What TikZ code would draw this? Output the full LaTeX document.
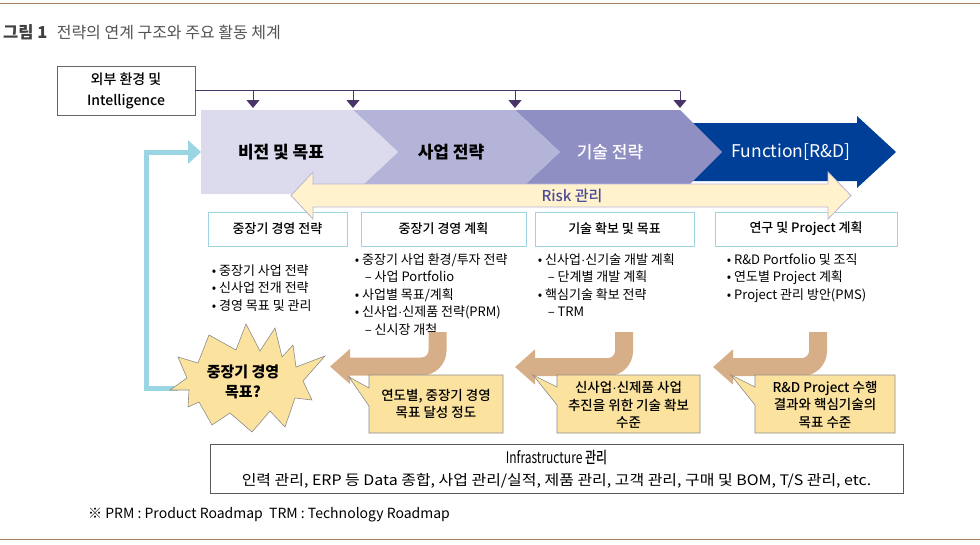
\documentclass[tikz,border=0pt]{standalone}
\usepackage{fontspec}
\setmainfont{Noto Sans CJK KR}
\newfontfamily\medfont{Noto Sans CJK KR Medium}
\newfontfamily\dotfont{Liberation Sans}
\newcommand\mdot{{\dotfont ·}}
\usepackage{tikz}
\usetikzlibrary{arrows.meta, positioning}

\definecolor{rulebrown}{RGB}{160,124,92}
\definecolor{busline}{RGB}{72,52,104}
\definecolor{chevA}{RGB}{220,219,237}
\definecolor{chevB}{RGB}{180,179,216}
\definecolor{chevC}{RGB}{144,143,196}
\definecolor{chevD}{RGB}{0,63,152}
\definecolor{riskfill}{RGB}{255,242,204}
\definecolor{riskline}{RGB}{185,180,214}
\definecolor{risktext}{RGB}{75,75,155}
\definecolor{planline}{RGB}{158,211,223}
\definecolor{fbline}{RGB}{153,213,227}
\definecolor{uturncol}{RGB}{214,174,135}
\definecolor{memofill}{RGB}{251,226,158}
\definecolor{memoline}{RGB}{140,140,140}
\definecolor{titlegray}{RGB}{64,64,64}

\tikzset{
  phase/.style={font=\bfseries\fontsize{17}{19}\selectfont},
  plan/.style={draw=planline, line width=0.8pt, fill=white, minimum height=34pt,
    font=\medfont\fontsize{13}{15}\selectfont},
  bullets/.style={align=left, font=\fontsize{13}{17.5}\selectfont},
  memo/.style={draw=memoline, fill=memofill, line width=0.6pt},
  memotext/.style={align=center, font=\medfont\fontsize{13.5}{17.5}\selectfont},
  uturn/.style={draw=uturncol, line width=18pt, rounded corners=16pt,
    -{Triangle[length=20pt, width=34pt]}},
  drop/.style={draw=busline, line width=1pt, -{Triangle[length=8pt, width=13pt]}}
}

\begin{document}
\begin{tikzpicture}[x=1pt, y=-1pt, every node/.style={inner sep=0pt}]
\useasboundingbox (0,0) rectangle (980,544);

% rules and caption
\draw[rulebrown, line width=1pt] (0,3) -- (980,3);
\draw[rulebrown, line width=1pt] (0,539) -- (980,539);
\node[anchor=base west, text=titlegray, font=\bfseries\fontsize{16.5}{18}\selectfont] (fig) at (3,38) {그림 1};
\node[base right=9pt of fig, text=titlegray!90, font=\fontsize{16}{18}\selectfont] (caption) {전략의 연계 구조와 주요 활동 체계};

% outside input
\node[draw=black!60, line width=0.8pt, minimum width=138pt, minimum height=49pt, align=center,
  font=\medfont\fontsize{14}{21}\selectfont] (env) at (126,90.5) {외부 환경 및\\Intelligence};

% chevrons
\fill[chevD] (680,123) -- (857,123) -- (857,116) -- (896,152) -- (857,188) -- (857,181) -- (680,181) -- cycle;
\fill[chevC] (515,110) -- (680,110) -- (722,152) -- (680,194) -- (515,194) -- (560,152) -- cycle;
\fill[chevB] (353,110) -- (515,110) -- (560,152) -- (515,194) -- (353,194) -- (398,152) -- cycle;
\fill[chevA] (201,110) -- (353,110) -- (398,152) -- (353,194) -- (201,194) -- cycle;
\node[phase] (vision) at (281,152) {비전 및 목표};
\node[phase] (biz) at (451,152) {사업 전략};
\node[phase, text=white, font=\medfont\fontsize{17}{19}\selectfont] (tech) at (610,152) {기술 전략};
\node[phase, text=white, font=\fontsize{17.5}{19}\selectfont] (func) at (791,152) {Function[R\&D]};

\coordinate (d1) at (253,108);
\coordinate (d2) at (353,108);
\coordinate (d3) at (515,108);
\coordinate (d4) at (680,108);
\draw[busline, line width=1pt] (env.east) -- (env.east -| d4);
\foreach \d in {d1,d2,d3,d4}
  \draw[drop] (env.east -| \d) -- (\d);

% activity boxes
\node[plan, minimum width=139pt] (plan1) at (277.5,229) {중장기 경영 전략};
\node[plan, minimum width=165pt] (plan2) at (443.5,229) {중장기 경영 계획};
\node[plan, minimum width=159pt] (plan3) at (614.5,229) {기술 확보 및 목표};
\node[plan, minimum width=182pt] (plan4) at (806,229) {연구 및 Project 계획};

% risk band
\draw[fill=riskfill, draw=riskline, line width=0.8pt] (291,195.5) -- (313,172) -- (313,184) -- (828,184) -- (828,172)
  -- (851,195.5) -- (828,219) -- (828,207) -- (313,207) -- (313,219) -- cycle;
\node[text=risktext, font=\medfont\fontsize{15}{17}\selectfont] (risk) at (572,196) {Risk 관리};

\node[bullets, below right=18pt and 4pt of plan1.south west] (list1)
  {• 중장기 사업 전략\\• 신사업 전개 전략\\• 경영 목표 및 관리};
\node[bullets, below right=7pt and -6pt of plan2.south west] (list2)
  {• 중장기 사업 환경/투자 전략\\\hspace*{10pt}– 사업 Portfolio\\• 사업별 목표/계획\\• 신사업\mdot 신제품 전략(PRM)\\\hspace*{10pt}– 신시장 개척};
\node[bullets, below right=7pt and 3pt of plan3.south west] (list3)
  {• 신사업\mdot 신기술 개발 계획\\\hspace*{10pt}– 단계별 개발 계획\\• 핵심기술 확보 전략\\\hspace*{10pt}– TRM};
\node[bullets, below right=7pt and 12pt of plan4.south west] (list4)
  {• R\&D Portfolio 및 조직\\• 연도별 Project 계획\\• Project 관리 방안(PMS)};

% feedback to vision
\coordinate (entry) at (201,152);
\coordinate (fbstart) at (178,388);
\draw[fbline, line width=5pt, -{Triangle[length=13pt, width=23pt]}] (fbstart) -- ++(-32,0) |- (entry);

% goal burst
\draw[memo] (246,324) -- (260,351) -- (275,328) -- (282,357) -- (293,345) -- (296,367) -- (325,356) -- (303,381)
  -- (312,400) -- (295,398) -- (285,427) -- (270,411) -- (252,432) -- (230,413) -- (212,425) -- (199,402)
  -- (188,407) -- (189,390) -- (170,390) -- (187,378) -- (178,357) -- (198,363) -- (209,335) -- (236,350) -- cycle;
\node[align=center, font=\bfseries\fontsize{15}{20}\selectfont] (goal) at (243,382) {중장기 경영\\목표?};

% turn-back arrows
\coordinate (u1) at (437.5,332);
\coordinate (t1) at (330,366.5);
\coordinate (u2) at (624,332);
\coordinate (t2) at (515,367);
\coordinate (u3) at (818,332);
\coordinate (t3) at (713,367);
\draw[uturn] (u1) |- (t1);
\draw[uturn] (u2) |- (t2);
\draw[uturn] (u3) |- (t3);

% results
\draw[memo] (369,375) -- (503,375) -- (503,433) -- (369,433) -- (369,406) -- (349,377) -- (369,388) -- cycle;
\node[memotext] (memo1) at (436,404) {연도별, 중장기 경영\\목표 달성 정도};
\draw[memo] (557,375) -- (700,375) -- (700,433) -- (557,433) -- (557,405) -- (533,375) -- (557,387) -- cycle;
\node[memotext] (memo2) at (628.5,405) {신사업\mdot 신제품 사업\\추진을 위한 기술 확보\\수준};
\draw[memo] (755,375) -- (895,375) -- (895,433) -- (755,433) -- (755,405) -- (731,375) -- (755,387) -- cycle;
\node[memotext] (memo3) at (825,404.5) {R\&D Project 수행\\결과와 핵심기술의\\목표 수준};

% infrastructure
\node[draw=black!65, line width=0.8pt, minimum width=693pt, minimum height=49pt, align=center] (infra) at (556.5,469)
  {\scalebox{0.75}[1]{\fontsize{16}{18}\selectfont Infrastructure {\medfont 관리}}\\[8pt]
   \scalebox{1.1}[1]{\fontsize{14.5}{18}\selectfont 인력 관리, ERP 등 Data 종합, 사업 관리/실적, 제품 관리, 고객 관리, 구매 및 BOM, T/S 관리, etc.}};
\node[anchor=west, font=\fontsize{14}{16}\selectfont] (note) at (88,515)
  {※ PRM : Product Roadmap\ \ TRM : Technology Roadmap};
\end{tikzpicture}
\end{document}
